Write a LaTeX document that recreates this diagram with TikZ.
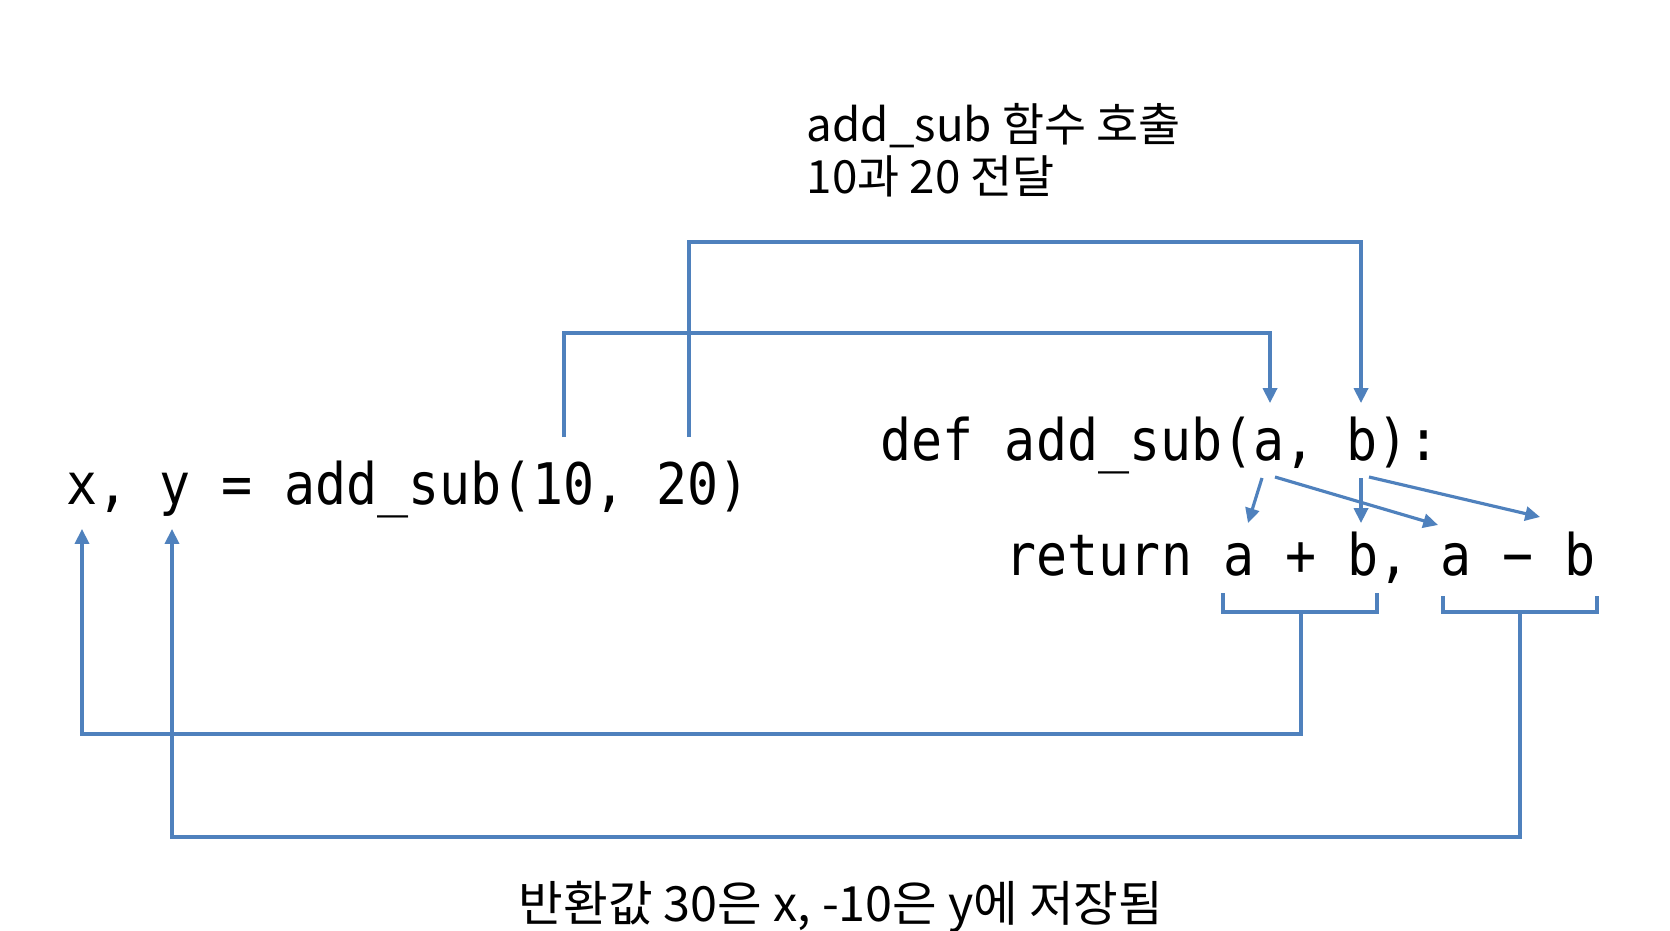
\documentclass[tikz,border=0pt]{standalone}
\usepackage{fontspec}
\newfontfamily\codefont[FakeStretch=0.9]{DejaVu Sans Mono}
\newfontfamily\kofont{Noto Sans CJK KR}
\usetikzlibrary{arrows.meta}
\definecolor{lineblue}{RGB}{79,129,189}

\begin{document}
\begin{tikzpicture}[x=0.01cm,y=-0.01cm,>={Triangle[length=4.2pt,width=4pt]},
  flow/.style={lineblue,line width=0.9pt},
  code/.style={anchor=base west,inner sep=0pt,font=\codefont\fontsize{16.3pt}{18pt}\selectfont},
  note/.style={anchor=base west,inner sep=0pt,font=\kofont\fontsize{13pt}{15pt}\selectfont}]
\useasboundingbox (0,0) rectangle (1670,930);

\node[code] (call) at (66,504) {x, y = add\_sub(10, 20)};
\node[code] (def) at (880,460) {def add\_sub(a, b):};
\node[code] (ret) at (1005,575) {return a + b, a − b};

\coordinate (ten) at (564,437);
\coordinate (twenty) at (689,437);
\coordinate (parA) at (1270,403);
\coordinate (parB) at (1361,403);
\draw[flow,->] (ten) -- ++(0,-104) -| (parA);
\draw[flow,->] (twenty) -- ++(0,-195) -| (parB);

\coordinate (defA1) at (1262,478);
\coordinate (defA2) at (1275,477);
\coordinate (defB1) at (1361,478);
\coordinate (defB2) at (1369,477);
\coordinate (retA1) at (1248,523);
\coordinate (retB1) at (1361,523);
\coordinate (retA2) at (1438,525);
\coordinate (retB2) at (1540,517);
\draw[flow,->] (defA1) -- (retA1);
\draw[flow,->] (defA2) -- (retA2);
\draw[flow,->] (defB1) -- (retB1);
\draw[flow,->] (defB2) -- (retB2);

\draw[flow] (1223,593) -- (1223,612) -- (1377,612) -- (1377,593);
\draw[flow] (1443,596) -- (1443,612) -- (1597,612) -- (1597,596);
\coordinate (sumMid) at (1301,612);
\coordinate (difMid) at (1520,612);
\coordinate (xIn) at (82,529);
\coordinate (yIn) at (172,529);
\draw[flow,->] (sumMid) -- ++(0,122) -| (xIn);
\draw[flow,->] (difMid) -- ++(0,225) -| (yIn);

\node[note] (callnote) at (806,141) {add\_sub 함수 호출};
\node[note] (passnote) at (806,193) {10과 20 전달};
\node[note,anchor=base,font=\kofont\fontsize{13.8pt}{16pt}\selectfont] (retnote) at (841,921) {반환값 30은 x, -10은 y에 저장됨};
\end{tikzpicture}
\end{document}
